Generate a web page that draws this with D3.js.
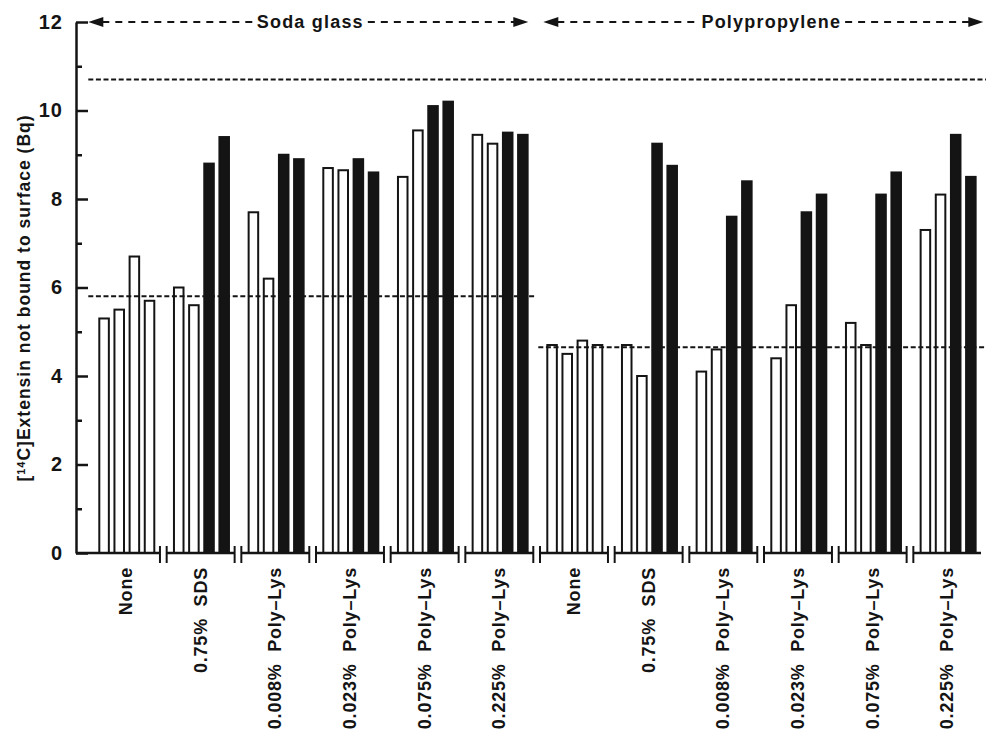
<!DOCTYPE html>
<html>
<head>
<meta charset="utf-8">
<script src="https://cdn.jsdelivr.net/npm/d3@7/dist/d3.min.js"></script>
<style>
  body { margin: 0; background: #fff; }
  text { font-family: "Liberation Sans", Arial, Helvetica, sans-serif; font-weight: bold; fill: #141414; }
</style>
</head>
<body>
<div id="chart"></div>
<script>
// surfaces and pretreatments (one group of 4 bars per pair)
var materials = ["Soda glass", "Polypropylene"];
var treatments = ["None", "0.75%  SDS", "0.008%  Poly\u2013Lys", "0.023%  Poly\u2013Lys",
                  "0.075%  Poly\u2013Lys", "0.225%  Poly\u2013Lys"];

// bar heights, [14C]extensin in Bq, 4 bars per treatment
var sodaValues = [
    [5.3, 5.5, 6.7, 5.7],
    [6.0, 5.6, 8.8, 9.4],
    [7.7, 6.2, 9.0, 8.9],
    [8.7, 8.65, 8.9, 8.6],
    [8.5, 9.55, 10.1, 10.2],
    [9.45, 9.25, 9.5, 9.45]
];
var polyValues = [
    [4.7, 4.5, 4.8, 4.7],
    [4.7, 4.0, 9.25, 8.75],
    [4.1, 4.6, 7.6, 8.4],
    [4.4, 5.6, 7.7, 8.1],
    [5.2, 4.7, 8.1, 8.6],
    [7.3, 8.1, 9.45, 8.5]
];
// 1 = solid bar, 0 = open bar
var solidBars = [
    [0, 0, 0, 0],
    [0, 0, 1, 1],
    [0, 0, 1, 1],
    [0, 0, 1, 1],
    [0, 0, 1, 1],
    [0, 0, 1, 1]
];
// dashed reference levels
var refLines = [
    {value: 10.7, span: ["Soda glass", "Polypropylene"]},
    {value: 5.8, span: ["Soda glass"]},
    {value: 4.65, span: ["Polypropylene"]}
];
var yMajor = [0, 2, 4, 6, 8, 10, 12];
var yMinor = [1, 3, 5, 7, 9, 11];

var W = 986, H = 733;
var axisX = 76, baseY = 553, topY = 22;
var ink = "#141414";

var groups = [];
materials.forEach(function(m){
    var vals = m === "Soda glass" ? sodaValues : polyValues;
    treatments.forEach(function(t, i){
        groups.push({id: m + "|" + t, material: m, label: t, values: vals[i], solid: solidBars[i]});
    });
});

var svg = d3.select("#chart").append("svg")
    .attr("width", W).attr("height", H)
    .style("display", "block");
svg.append("rect").attr("width", W).attr("height", H).attr("fill", "#fff");

var x = d3.scaleBand().domain(groups.map(function(g){ return g.id; }))
    .range([88.3, 984.3]);
var x1 = d3.scaleBand().domain([0, 1, 2, 3]).range([11, 66]).paddingInner(0.37);
var y = d3.scaleLinear().domain([0, 12]).range([baseY, topY]);

// y axis, ticks pointing inward
var gY = svg.append("g").attr("transform", "translate(" + axisX + ",0)")
    .call(d3.axisLeft(y).tickValues(yMajor).tickSizeInner(-12).tickSizeOuter(0).tickPadding(13));
gY.select(".domain").attr("stroke", ink).attr("stroke-width", 2.5);
gY.selectAll(".tick line").attr("stroke", ink).attr("stroke-width", 2.5);
gY.selectAll(".tick text").attr("font-size", 20).attr("fill", ink)
    .style("font-family", "'Liberation Sans', Arial, sans-serif").style("font-weight", "bold")
    .attr("letter-spacing", 1);

var gYm = svg.append("g").attr("transform", "translate(" + axisX + ",0)")
    .call(d3.axisLeft(y).tickValues(yMinor).tickSize(-6).tickFormat(""));
gYm.select(".domain").remove();
gYm.selectAll(".tick line").attr("stroke", ink).attr("stroke-width", 2.5);

// axis title
var title = svg.append("text")
    .attr("transform", "translate(24,298) rotate(-90)")
    .attr("text-anchor", "middle")
    .attr("dy", "0.35em")
    .attr("font-size", 17.5)
    .attr("letter-spacing", 1);
title.append("tspan").text("[");
title.append("tspan").attr("font-size", 11).attr("dy", "-0.5em").text("14");
title.append("tspan").attr("dy", "0.32em").text("C]Extensin not bound to surface (Bq)");

// bars
var gBars = svg.append("g");
var grp = gBars.selectAll("g").data(groups).enter().append("g")
    .attr("transform", function(g){ return "translate(" + x(g.id) + ",0)"; });
grp.selectAll("rect").data(function(g){
        return g.values.map(function(v, j){ return {j: j, v: v, solid: g.solid[j]}; });
    }).enter().append("rect")
    .attr("x", function(d){ return x1(d.j); })
    .attr("width", x1.bandwidth())
    .attr("y", function(d){ return y(d.v); })
    .attr("height", function(d){ return y(0) - y(d.v); })
    .attr("fill", function(d){ return d.solid ? ink : "#fff"; })
    .attr("stroke", ink)
    .attr("stroke-width", 2);

// broken x axis
var step = x.step();
var breaks = groups.slice(1).map(function(g){ return x(g.id); });
var segs = [axisX].concat(breaks.map(function(b){ return b + 3.7; }));
var ends = breaks.map(function(b){ return b - 3; }).concat([981]);
var gX = svg.append("g");
segs.forEach(function(s, i){
    gX.append("line").attr("x1", s).attr("x2", ends[i])
        .attr("y1", baseY).attr("y2", baseY)
        .attr("stroke", ink).attr("stroke-width", 2.5);
});
breaks.forEach(function(b){
    [b - 3, b + 3.7].forEach(function(bx){
        gX.append("line").attr("x1", bx).attr("x2", bx)
            .attr("y1", baseY - 7).attr("y2", baseY + 10)
            .attr("stroke", ink).attr("stroke-width", 2);
    });
});

// category labels
svg.append("g").selectAll("text").data(groups).enter().append("text")
    .attr("transform", function(g){
        return "translate(" + (x(g.id) + x.bandwidth() / 2) + ",567) rotate(-90)";
    })
    .attr("text-anchor", "end")
    .attr("dy", "0.36em")
    .attr("font-size", 18)
    .attr("letter-spacing", 0.8)
    .style("white-space", "pre")
    .text(function(g){ return g.label; });

// dashed reference lines
function spanOf(mats){
    var gs = groups.filter(function(g){ return mats.indexOf(g.material) >= 0; });
    var a = x(gs[0].id), b = x(gs[gs.length - 1].id) + step;
    return [a + (gs[0].material === "Soda glass" ? 0 : 2), b + 2];
}
svg.append("g").selectAll("line").data(refLines).enter().append("line")
    .attr("x1", function(d){ return spanOf(d.span)[0]; })
    .attr("x2", function(d){ return d.span.length > 1 ? spanOf(d.span)[1] : spanOf(d.span)[1] - 2; })
    .attr("y1", function(d){ return y(d.value); })
    .attr("y2", function(d){ return y(d.value); })
    .attr("stroke", ink).attr("stroke-width", 2)
    .attr("stroke-dasharray", "5,2.6");

// material headers: dashed double arrows
var gHead = svg.append("g");
materials.forEach(function(m, i){
    var gs = groups.filter(function(g){ return g.material === m; });
    var left = x(gs[0].id) + (i === 0 ? 0 : 7);
    var right = x(gs[gs.length - 1].id) + step - (i === 0 ? 8 : 1);
    var mid = (left + right) / 2 + (i === 0 ? 2 : 8);
    var t = gHead.append("text").attr("x", mid).attr("y", topY).attr("dy", "0.35em")
        .attr("text-anchor", "middle").attr("font-size", 18).attr("letter-spacing", 1.2)
        .text(m);
    var tw = t.node().getComputedTextLength();
    [[left + 14, mid - tw / 2 - 4], [mid + tw / 2 + 4, right - 14]].forEach(function(s){
        gHead.append("line").attr("x1", s[0]).attr("x2", s[1])
            .attr("y1", topY).attr("y2", topY)
            .attr("stroke", ink).attr("stroke-width", 2.2)
            .attr("stroke-dasharray", "7,6");
    });
    gHead.append("path")
        .attr("d", "M" + left + "," + topY + "l15,-5l0,10z")
        .attr("fill", ink);
    gHead.append("path")
        .attr("d", "M" + right + "," + topY + "l-15,-5l0,10z")
        .attr("fill", ink);
});
</script>
</body>
</html>
